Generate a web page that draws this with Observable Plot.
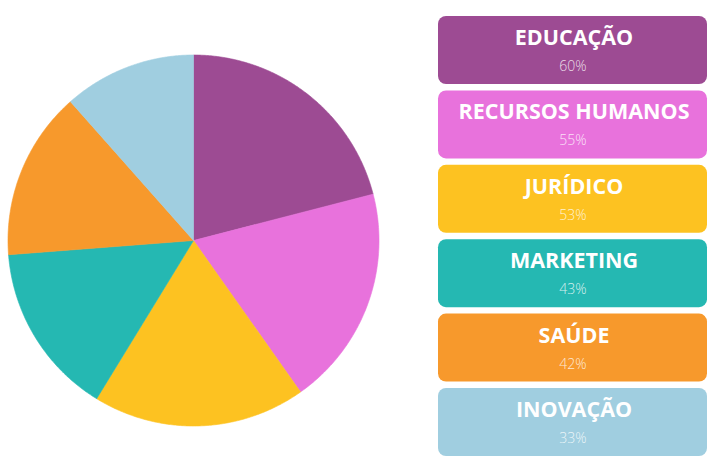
<!DOCTYPE html>
<html>
<head>
<meta charset="utf-8">
<script src="https://cdn.jsdelivr.net/npm/d3@7"></script>
<script src="https://cdn.jsdelivr.net/npm/@observablehq/plot@0.6"></script>
<style>
  html, body { margin: 0; padding: 0; background: #fff; }
  #chart svg { display: block; font-family: "Open Sans", sans-serif; }
</style>
</head>
<body>
<div id="chart"></div>
<script>
const categories = ["EDUCAÇÃO", "RECURSOS HUMANOS", "JURÍDICO", "MARKETING", "SAÚDE", "INOVAÇÃO"];
const values = [60, 55, 53, 43, 42, 33];
const percentLabels = ["60%", "55%", "53%", "43%", "42%", "33%"];
const colors = ["#9D4B93", "#E872DC", "#FDC221", "#25B8B2", "#F7992C", "#A0CEE0"];

const W = 714, H = 464;
const cx = 193, cy = 240, r = 185.5;

// Build slice outlines (angles from 12 o'clock, clockwise)
const total = d3.sum(values);
const pieData = [];
let start = 0;
categories.forEach((name, i) => {
  const sweep = values[i] / total * 2 * Math.PI;
  const end = start + sweep;
  pieData.push({name, a: null, center: true});
  const steps = Math.max(2, Math.ceil(sweep / (Math.PI / 360)));
  for (let k = 0; k <= steps; k++) {
    const a = start + sweep * k / steps;
    pieData.push({name, a});
  }
  pieData.push({name, a: null, center: true});
  start = end;
});
const px = d => d.center ? cx : cx + r * Math.sin(d.a);
const py = d => d.center ? cy : cy - r * Math.cos(d.a);

// Legend box layout
const boxX1 = 438, boxX2 = 707, boxTop0 = 16, boxStep = 74.4, boxH = 68;
const legend = categories.map((name, i) => ({name, pct: percentLabels[i], i}));
const boxTopOf = d => boxTop0 + d.i * boxStep;

const chart = Plot.plot({
  width: W,
  height: H,
  margin: 0,
  x: {domain: [0, W], range: [0, W], axis: null},
  y: {domain: [0, H], range: [0, H], axis: null},
  color: {domain: categories, range: colors},
  style: {fontFamily: "'Open Sans', sans-serif", background: "#fff"},
  marks: [
    Plot.line(pieData, {x: px, y: py, z: "name", fill: "name", stroke: "name", strokeWidth: 0.6, curve: "linear"}),
    Plot.rect(legend, {x1: boxX1, x2: boxX2, y1: boxTopOf, y2: d => boxTopOf(d) + boxH, fill: "name", rx: 8}),
    Plot.text(legend, {x: (boxX1 + boxX2) / 2 + 1, y: d => boxTopOf(d) + 28.5, text: "name", fill: "white",
      fontSize: 21.5, fontWeight: "bold", textAnchor: "middle", lineAnchor: "bottom"}),
    Plot.text(legend, {x: (boxX1 + boxX2) / 2, y: d => boxTopOf(d) + 54.5, text: "pct", fill: "white", fillOpacity: 0.8,
      fontSize: 14, fontWeight: 300, textAnchor: "middle", lineAnchor: "bottom"})
  ]
});
document.getElementById("chart").appendChild(chart);
</script>
</body>
</html>
